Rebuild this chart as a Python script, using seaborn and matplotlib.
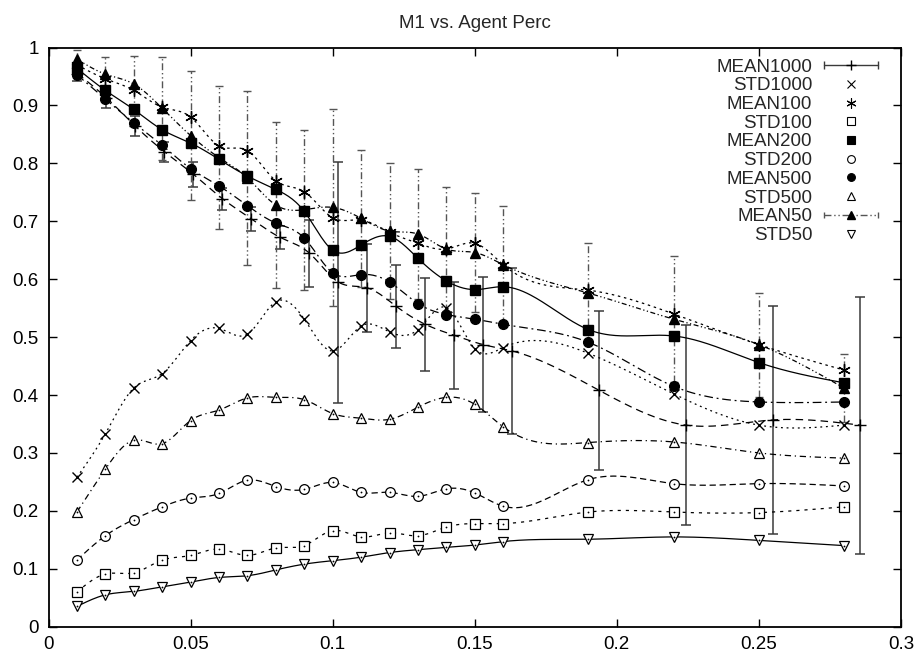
import numpy as np
import pandas as pd
import matplotlib
matplotlib.use("Agg")
import matplotlib.pyplot as plt
import seaborn as sns
from matplotlib.lines import Line2D
from matplotlib.legend_handler import HandlerBase

# ---------------- data ----------------
x_vals = [0.01, 0.02, 0.03, 0.04, 0.05, 0.06, 0.07, 0.08, 0.09, 0.10,
          0.11, 0.12, 0.13, 0.14, 0.15, 0.16, 0.19, 0.22, 0.25, 0.28]
x_mean1000 = [0.0102, 0.0204, 0.0306, 0.0408, 0.0510, 0.0612, 0.0714, 0.0816, 0.0918, 0.1020,
              0.1122, 0.1224, 0.1326, 0.1428, 0.1530, 0.1632, 0.1938, 0.2244, 0.2550, 0.2856]

mean1000 = [0.955, 0.913, 0.864, 0.820, 0.781, 0.739, 0.704, 0.672, 0.645, 0.595,
            0.585, 0.553, 0.522, 0.503, 0.487, 0.476, 0.408, 0.348, 0.357, 0.348]
mean1000_err = [0.012, 0.017, 0.017, 0.017, 0.021, 0.019, 0.021, 0.020, 0.058, 0.208,
                0.076, 0.071, 0.080, 0.092, 0.116, 0.143, 0.137, 0.173, 0.197, 0.222]
std1000 = [0.258, 0.333, 0.412, 0.437, 0.494, 0.515, 0.505, 0.561, 0.531, 0.476,
           0.519, 0.509, 0.513, 0.551, 0.480, 0.482, 0.472, 0.402, 0.348, 0.348]
mean100 = [0.970, 0.946, 0.926, 0.897, 0.880, 0.830, 0.822, 0.770, 0.751, 0.706,
           0.702, 0.681, 0.662, 0.652, 0.662, 0.625, 0.581, 0.540, 0.487, 0.443]
std100 = [0.060, 0.091, 0.093, 0.115, 0.123, 0.134, 0.123, 0.136, 0.140, 0.166,
          0.155, 0.162, 0.157, 0.172, 0.178, 0.178, 0.198, 0.198, 0.197, 0.207]
mean200 = [0.964, 0.926, 0.893, 0.858, 0.835, 0.807, 0.778, 0.755, 0.717, 0.650,
           0.659, 0.674, 0.636, 0.597, 0.582, 0.587, 0.513, 0.502, 0.456, 0.421]
std200 = [0.115, 0.157, 0.185, 0.207, 0.222, 0.230, 0.253, 0.242, 0.237, 0.249,
          0.232, 0.232, 0.225, 0.238, 0.231, 0.208, 0.254, 0.247, 0.247, 0.243]
mean500 = [0.953, 0.911, 0.870, 0.831, 0.791, 0.761, 0.727, 0.697, 0.671, 0.611,
           0.608, 0.595, 0.558, 0.539, 0.531, 0.522, 0.491, 0.415, 0.388, 0.388]
std500 = [0.198, 0.272, 0.322, 0.316, 0.356, 0.374, 0.395, 0.396, 0.392, 0.368,
          0.360, 0.358, 0.379, 0.396, 0.384, 0.345, 0.318, 0.319, 0.300, 0.291]
mean50 = [0.980, 0.954, 0.937, 0.895, 0.848, 0.810, 0.775, 0.728, 0.720, 0.724,
          0.705, 0.683, 0.678, 0.652, 0.646, 0.625, 0.576, 0.531, 0.487, 0.412]
mean50_err = [0.015, 0.029, 0.049, 0.089, 0.111, 0.124, 0.150, 0.144, 0.138, 0.170,
              0.118, 0.117, 0.113, 0.107, 0.103, 0.102, 0.086, 0.109, 0.090, 0.058]
std50 = [0.035, 0.055, 0.061, 0.069, 0.077, 0.085, 0.088, 0.098, 0.108, 0.114,
         0.120, 0.128, 0.133, 0.137, 0.141, 0.147, 0.151, 0.155, 0.149, 0.140]

title = "M1 vs. Agent Perc"
xtick_vals = [0, 0.05, 0.1, 0.15, 0.2, 0.25, 0.3]
xtick_labels = ["0", "0.05", "0.1", "0.15", "0.2", "0.25", "0.3"]
ytick_vals = [0, 0.1, 0.2, 0.3, 0.4, 0.5, 0.6, 0.7, 0.8, 0.9, 1.0]
ytick_labels = ["0", "0.1", "0.2", "0.3", "0.4", "0.5", "0.6", "0.7", "0.8", "0.9", "1"]

# ---------------- style ----------------
sns.set_style("ticks")
plt.rcParams["font.family"] = ["Liberation Sans", "DejaVu Sans"]
FS = 13.5

fig = plt.figure(figsize=(9.19, 6.57), dpi=100)
ax = fig.add_axes([48.5 / 919, 1 - 626.7 / 657, 852.5 / 919, 579.2 / 657])


def natural_spline(x, y, n=400):
    """Natural cubic spline used only to render the smooth curve (like gnuplot csplines)."""
    x = np.asarray(x, float)
    y = np.asarray(y, float)
    m = len(x)
    h = np.diff(x)
    A = np.zeros((m, m))
    r = np.zeros(m)
    A[0, 0] = 1
    A[-1, -1] = 1
    for i in range(1, m - 1):
        A[i, i - 1] = h[i - 1]
        A[i, i] = 2 * (h[i - 1] + h[i])
        A[i, i + 1] = h[i]
        r[i] = 6 * ((y[i + 1] - y[i]) / h[i] - (y[i] - y[i - 1]) / h[i - 1])
    M = np.linalg.solve(A, r)
    xs = np.linspace(x[0], x[-1], n)
    idx = np.clip(np.searchsorted(x, xs) - 1, 0, m - 2)
    x0, x1 = x[idx], x[idx + 1]
    hh = x1 - x0
    a = (x1 - xs) / hh
    b = (xs - x0) / hh
    ys = (a * y[idx] + b * y[idx + 1]
          + ((a ** 3 - a) * M[idx] + (b ** 3 - b) * M[idx + 1]) * hh ** 2 / 6)
    return xs, ys


LW = 0.9
series = [
    # name, xs, ys, linestyle, marker, filled, ms
    ("MEAN1000", x_mean1000, mean1000, (0, (6, 4)), "+", True, 8),
    ("STD1000", x_vals, std1000, (0, (1.5, 3)), "x", True, 6.5),
    ("MEAN100", x_vals, mean100, (0, (2, 3)), (6, 2, 0), True, 9),
    ("STD100", x_vals, std100, (0, (2.5, 4)), "s", False, 6.5),
    ("MEAN200", x_vals, mean200, "-", "s", True, 7.5),
    ("STD200", x_vals, std200, (0, (5, 3)), "o", False, 7),
    ("MEAN500", x_vals, mean500, (0, (7, 3, 1.5, 3)), "o", True, 7),
    ("STD500", x_vals, std500, (0, (5, 3, 1, 3)), "^", False, 7),
    ("MEAN50", x_vals, mean50, (0, (4, 2, 1, 2, 1, 2)), "^", True, 6.5),
    ("STD50", x_vals, std50, "-", "v", False, 7),
]

# error bars
eb = ax.errorbar(x_mean1000, mean1000, yerr=mean1000_err, fmt="none",
                 ecolor="#3a3a3a", elinewidth=1.1, capsize=3.8, capthick=1.1, zorder=2)
eb2 = ax.errorbar(x_vals, mean50, yerr=mean50_err, fmt="none",
                  ecolor="#555555", elinewidth=1.0, capsize=3.0, capthick=1.0, zorder=2)
eb2[2][0].set_linestyle((0, (5, 2, 1, 2, 1, 2)))

for name, xs, ys, ls, mk, filled, ms in series:
    sx, sy = natural_spline(xs, ys)
    sns.lineplot(x=sx, y=sy, ax=ax, color="black", lw=LW, linestyle=ls,
                 estimator=None, sort=False, zorder=3)
    df = pd.DataFrame({"x": xs, "y": ys})
    if filled:
        sns.lineplot(data=df, x="x", y="y", ax=ax, estimator=None, sort=False,
                     linestyle="", marker=mk, ms=ms, color="black",
                     mec="black", mfc="black", mew=1.0, zorder=4)
    else:
        sns.lineplot(data=df, x="x", y="y", ax=ax, estimator=None, sort=False,
                     linestyle="", marker=mk, ms=ms, color="black",
                     mec="black", mfc="white", mew=0.9, zorder=4)
        sns.lineplot(data=df, x="x", y="y", ax=ax, estimator=None, sort=False,
                     linestyle="", marker="o", ms=1.3, color="black",
                     mec="black", mfc="black", mew=0, zorder=5)

ax.set_xlim(0, 0.3)
ax.set_ylim(0, 1)
ax.set_xticks(xtick_vals)
ax.set_xticklabels(xtick_labels)
ax.set_yticks(ytick_vals)
ax.set_yticklabels(ytick_labels)
ax.set_xlabel("")
ax.set_ylabel("")
ax.tick_params(direction="in", top=True, right=True, length=6, width=1,
               labelsize=FS, pad=7, colors="black")
for sp in ax.spines.values():
    sp.set_visible(True)
    sp.set_linewidth(1.3)
    sp.set_color("black")
ax.set_title(title, fontsize=FS, pad=14)


# ---------------- legend ----------------
class HandlerHErr(HandlerBase):
    def __init__(self, ls, color, marker, ms, cap):
        super().__init__()
        self.ls, self.color, self.marker, self.ms, self.cap = ls, color, marker, ms, cap

    def create_artists(self, legend, orig_handle, xdescent, ydescent, width,
                       height, fontsize, trans):
        y = height / 2 - ydescent
        x0, x1 = -xdescent, -xdescent + width
        line = Line2D([x0, x1], [y, y], linestyle=self.ls, color=self.color, lw=1.0)
        caps = Line2D([x0, x1], [y, y], linestyle="", marker="|", ms=self.cap,
                      mew=1.0, color=self.color)
        mk = Line2D([(x0 + x1) / 2], [y], linestyle="", marker=self.marker,
                    ms=self.ms, color="black", mfc="black", mec="black")
        for a in (line, caps, mk):
            a.set_transform(trans)
        return [line, caps, mk]


handles, labels, hmap = [], [], {}
for name, xs, ys, ls, mk, filled, ms in series:
    if name == "MEAN1000":
        h = Line2D([], [], color="black")
        hmap[h] = HandlerHErr("-", "#3a3a3a", "+", 7, 6)
    elif name == "MEAN50":
        h = Line2D([], [], color="black")
        hmap[h] = HandlerHErr((0, (5, 2, 1, 2, 1, 2)), "#555555", "^", 5.5, 5)
    else:
        h = Line2D([], [], linestyle="", marker=mk, ms=ms * 0.8, color="black",
                   mec="black", mfc=("black" if filled else "white"), mew=0.8)
    handles.append(h)
    labels.append(name)

leg = ax.legend(handles, labels, handler_map=hmap, loc="upper right",
                bbox_to_anchor=(1 - 23 / 852.5, 1 - 11 / 579.2),
                borderpad=0, borderaxespad=0, frameon=False, markerfirst=False,
                fontsize=FS, handlelength=2.9, handletextpad=0.6,
                labelspacing=0.085)

fig.savefig("out.png", dpi=100)
